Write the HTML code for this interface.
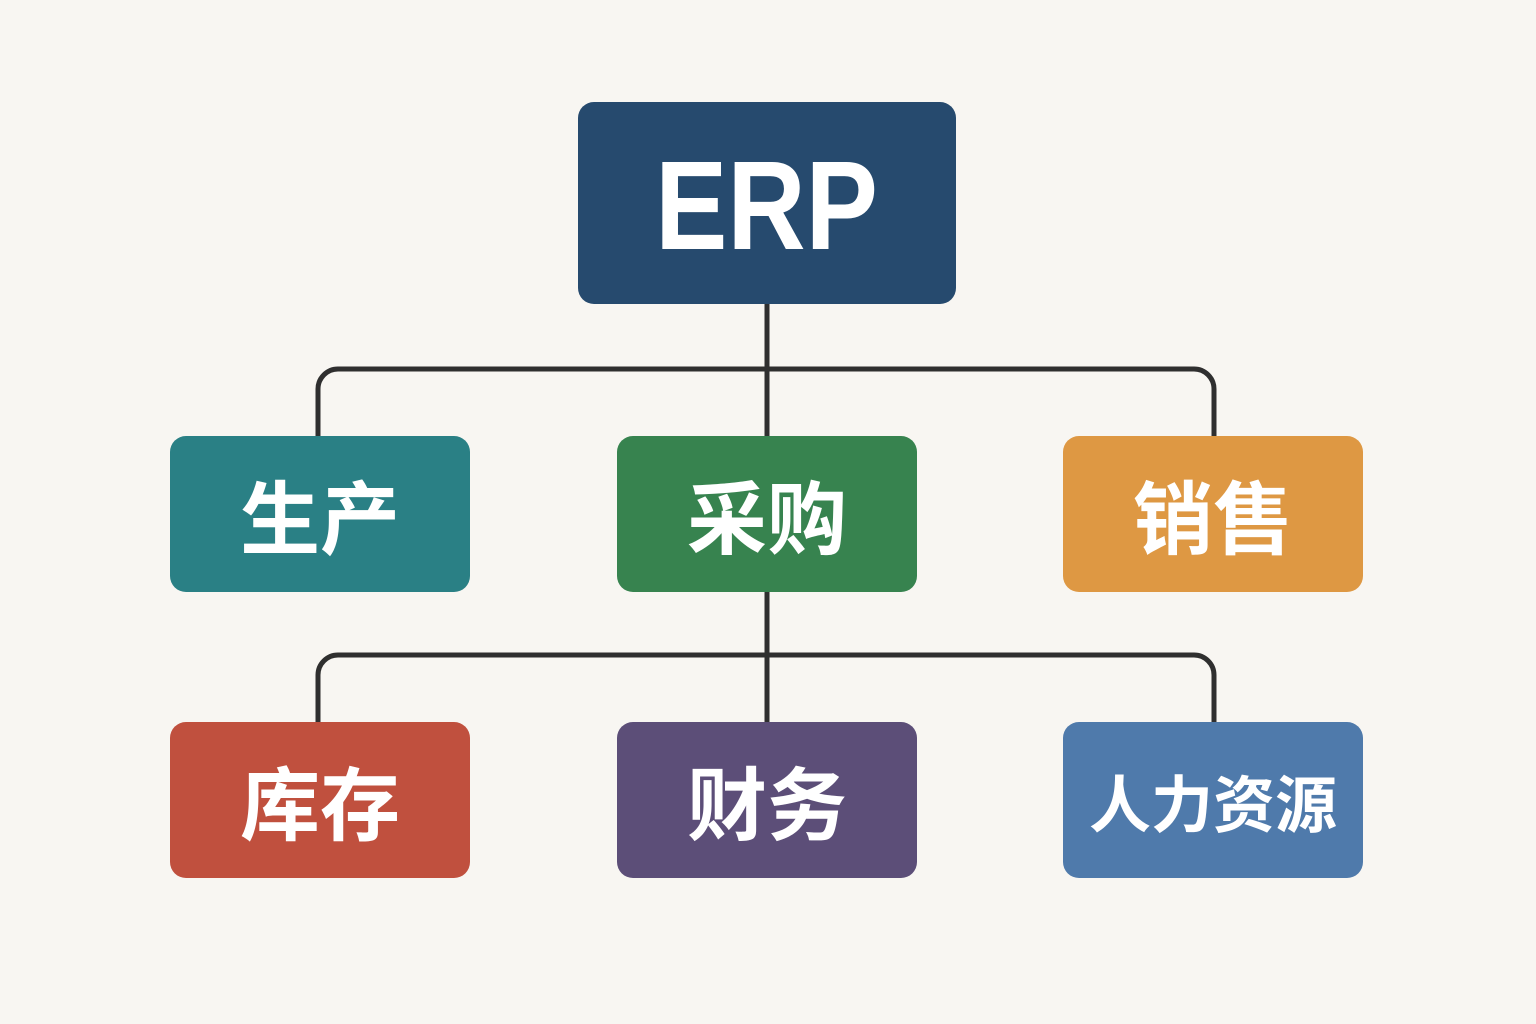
<!DOCTYPE html>
<html><head><meta charset="utf-8"><style>
body{margin:0;width:1536px;height:1024px;background:#f8f6f2;position:relative;overflow:hidden;font-family:"Liberation Sans","Noto Sans CJK SC",sans-serif}
.b{position:absolute;color:#fff;display:flex;align-items:center;justify-content:center;font-weight:bold;border-radius:16px}
svg{position:absolute;left:0;top:0}
</style></head><body>
<svg width="1536" height="1024">
<g fill="none" stroke="#2f2f2f" stroke-width="5">
<path d="M767 300V440"/>
<path d="M318 440V389a20 20 0 0 1 20-20H1194a20 20 0 0 1 20 20V440"/>
<path d="M767 588V726"/>
<path d="M318 726V675a20 20 0 0 1 20-20H1194a20 20 0 0 1 20 20V726"/>
</g></svg>
<div class="b" style="left:578px;top:102px;width:378px;height:202px;background:#264a6e;font-size:126px"><span style="display:inline-block;transform:scaleX(0.86);margin-top:4px">ERP</span></div>
<div class="b" style="left:170px;top:436px;width:300px;height:156px;background:#2a8085;font-size:80px">生产</div>
<div class="b" style="left:617px;top:436px;width:300px;height:156px;background:#37834f;font-size:80px">采购</div>
<div class="b" style="left:1063px;top:436px;width:300px;height:156px;background:#de9843;font-size:80px">销售</div>
<div class="b" style="left:170px;top:722px;width:300px;height:156px;background:#c0503e;font-size:80px">库存</div>
<div class="b" style="left:617px;top:722px;width:300px;height:156px;background:#5c4e78;font-size:80px">财务</div>
<div class="b" style="left:1063px;top:722px;width:300px;height:156px;background:#4f7aab;font-size:62px">人力资源</div>
</body></html>
